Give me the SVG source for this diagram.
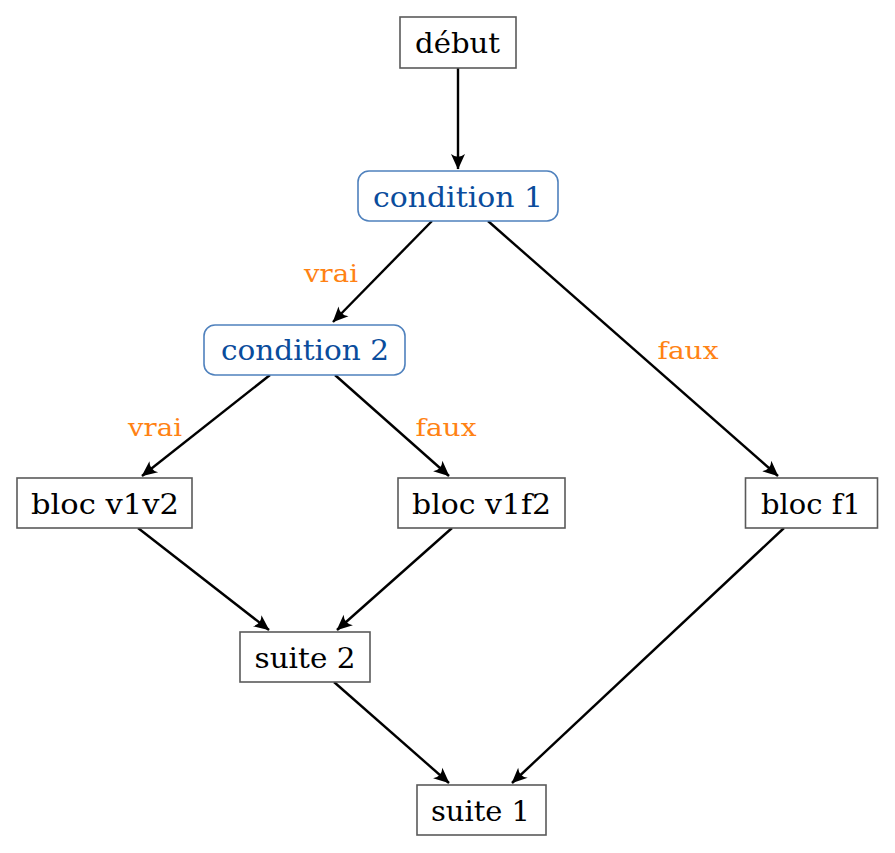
<svg xmlns="http://www.w3.org/2000/svg" width="895" height="853" viewBox="0 0 895 853">
<style>
text{font-family:"DejaVu Serif","Liberation Serif",serif;text-anchor:middle}
.box{fill:#fff;stroke:#5a5a5a;stroke-width:1.6}
.cond{fill:#fff;stroke:#4f81bd;stroke-width:1.6}
.t{font-size:28px;fill:#000}
.ct{font-size:28px;fill:#0a4c9c}
.lbl{font-size:24px;fill:#ff8214}
.edge{fill:none;stroke:#000;stroke-width:2.4;marker-end:url(#arr)}
</style>
<defs>
<marker id="arr" viewBox="-16 -8 17 16" refX="0" refY="0" markerWidth="17" markerHeight="16" markerUnits="userSpaceOnUse" orient="auto">
<path d="M0.5,0 L-15,-7 Q-9.5,0 -15,7 Z" fill="#000"/>
</marker>
</defs>
<g id="connectors">
<path class="edge" d="M458,68 L458,169"/>
<path class="edge" d="M432,221 L333,322"/>
<path class="edge" d="M488,221 L778,476"/>
<path class="edge" d="M270,375 L142,476"/>
<path class="edge" d="M335,375 L449,476"/>
<path class="edge" d="M138,528 L269,630"/>
<path class="edge" d="M452,528 L337,630"/>
<path class="edge" d="M784,528 L512,783"/>
<path class="edge" d="M334,682 L449,783"/>
<text class="lbl" x="331" y="282" textLength="54" lengthAdjust="spacingAndGlyphs">vrai</text>
<text class="lbl" x="688" y="359" textLength="61" lengthAdjust="spacingAndGlyphs">faux</text>
<text class="lbl" x="155" y="436" textLength="54" lengthAdjust="spacingAndGlyphs">vrai</text>
<text class="lbl" x="446" y="436" textLength="61" lengthAdjust="spacingAndGlyphs">faux</text>
</g>
<g id="debut"><rect class="box" x="400" y="17" width="116" height="51"/><text class="t" x="457.5" y="52.5" textLength="85" lengthAdjust="spacingAndGlyphs">début</text></g>
<g id="condition1"><rect class="cond" x="358" y="171" width="200" height="50" rx="11"/><text class="ct" x="458" y="206.5" textLength="170" lengthAdjust="spacingAndGlyphs">condition 1</text></g>
<g id="condition2"><rect class="cond" x="204" y="325" width="201" height="50" rx="11"/><text class="ct" x="305" y="360" textLength="168" lengthAdjust="spacingAndGlyphs">condition 2</text></g>
<g id="blocv1v2"><rect class="box" x="17" y="478" width="175" height="50"/><text class="t" x="105" y="513.5" textLength="148" lengthAdjust="spacingAndGlyphs">bloc v1v2</text></g>
<g id="blocv1f2"><rect class="box" x="398" y="478" width="167" height="50"/><text class="t" x="481.5" y="513.5" textLength="139" lengthAdjust="spacingAndGlyphs">bloc v1f2</text></g>
<g id="blocf1"><rect class="box" x="745.5" y="478" width="132" height="50"/><text class="t" x="811" y="513.5" textLength="100" lengthAdjust="spacingAndGlyphs">bloc f1</text></g>
<g id="suite2"><rect class="box" x="240" y="632" width="130" height="50"/><text class="t" x="305" y="667.5" textLength="101" lengthAdjust="spacingAndGlyphs">suite 2</text></g>
<g id="suite1"><rect class="box" x="417" y="785" width="129" height="50"/><text class="t" x="480.5" y="820.5" textLength="99" lengthAdjust="spacingAndGlyphs">suite 1</text></g>
</svg>
